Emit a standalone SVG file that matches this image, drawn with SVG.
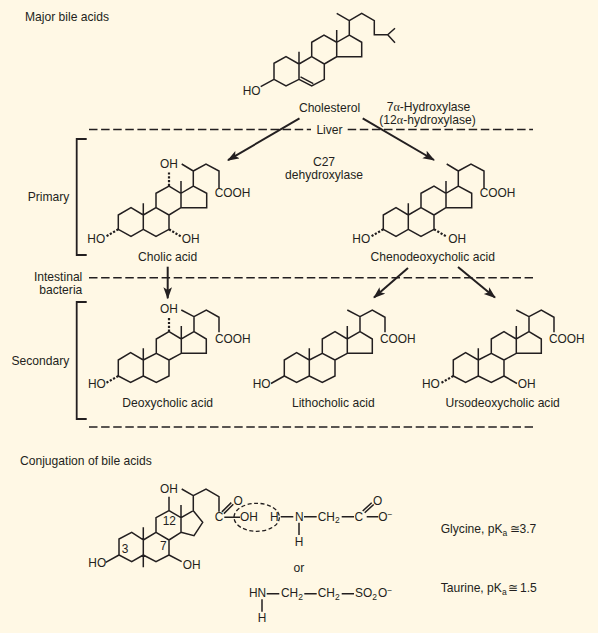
<svg xmlns="http://www.w3.org/2000/svg" xmlns:xlink="http://www.w3.org/1999/xlink" width="598" height="633" viewBox="0 0 598 633">
<style>
text{font-family:"Liberation Sans",Arial,sans-serif;font-size:11.9px;fill:#231f20}
.l{font-size:12.1px}
.m{text-anchor:middle}
.e{text-anchor:end}
.g{font-family:"Liberation Serif","Times New Roman",serif}
.s{font-size:8.5px}
.b{fill:none;stroke:#231f20;stroke-width:1.5;stroke-linejoin:miter}
.h{fill:none;stroke:#231f20;stroke-width:2.2;stroke-dasharray:2.2 1.6}
.d{fill:none;stroke:#231f20;stroke-width:1.5;stroke-dasharray:8.5 3.6}
.a{fill:none;stroke:#231f20;stroke-width:2}
.k{fill:none;stroke:#231f20;stroke-width:1.8}
</style>
<defs>
<marker id="ah" markerUnits="userSpaceOnUse" markerWidth="14" markerHeight="10" refX="11" refY="4.3" orient="auto" viewBox="0 0 14 10">
<path d="M0 0L12 4.3L0 8.6L2.7 4.3Z" fill="#231f20"/>
</marker>
<path id="upper" class="b" d="M-25 14.3V0L-12.3-7.3L0 0V14.3L-12.3 21.3ZM0 0V-11.7M0 14.3L12.7 21.3L25.7 14.3V0L12.7-7.3L0 0M12.7-7.3V-21.7L25.7-29L37.7-21.7V-7.3L25.7 0M37.7-7.3H63.4V-21.7L50-29L37.7-21.7V-34M50-29V-44L38.4-51M50-44L62.7-51L75.7-44V-27"/>
<path id="lower" class="b" d="M-25 16V0L-12.7-7.3L0 0V16L-12.7 22.3ZM0 0V-11.7M0 16L13 22.3L25.7 16V0L13-6.7L0 0M13-6.7V-21L25.7-28.3L38-21V-6.7L25.7 0M38-6.7H63V-21L50.7-28.3L38-21V-34M50.7-28.3V-43.3L38-50M50.7-43.3L63-50L75.7-42.7V-27.7"/>
</defs>
<rect width="598" height="633" fill="#fff8e5"/>

<g id="dividers">
<path class="d" d="M89 129.5H311M347.7 129.5H533"/>
<path class="d" d="M89 277.7H533"/>
<path class="d" d="M89 427H533"/>
</g>
<g id="brackets">
<path class="k" d="M86.7 139H76.7V255H86.7"/>
<path class="k" d="M86.7 302H76.7V419H86.7"/>
</g>
<g id="connectors">
<path class="a" marker-end="url(#ah)" d="M299.5 118.3L228 160.2"/>
<path class="a" marker-end="url(#ah)" d="M362.7 118.3L434 160"/>
<path class="a" marker-end="url(#ah)" d="M167.7 266.7V298.3"/>
<path class="a" marker-end="url(#ah)" d="M408 268L374 297.6"/>
<path class="a" marker-end="url(#ah)" d="M458 267L495 297.6"/>
</g>

<g id="headings">
<text class="l" x="25" y="21.3">Major bile acids</text>
<text class="l" x="20" y="465">Conjugation of bile acids</text>
<text class="l e" x="69.3" y="200.7">Primary</text>
<text class="l e" x="82.3" y="281">Intestinal</text>
<text class="l e" x="82.3" y="294.3">bacteria</text>
<text class="l e" x="69.3" y="365">Secondary</text>
<text class="l m" x="329.5" y="133.5">Liver</text>
</g>
<g id="enzymes">
<text class="l" x="386.7" y="110.7">7<tspan class="g">α</tspan>-Hydroxylase</text>
<text class="l" x="379.3" y="124">(12<tspan class="g">α</tspan>-hydroxylase)</text>
<text class="l m" x="324" y="166.2">C27</text>
<text class="l m" x="324" y="179.2">dehydroxylase</text>
</g>

<g id="cholesterol">
<path class="b" d="M274 79.3V63.3L286 56.7L299 64V79.3L286 86ZM299 64V51.7M299 79.3L311.7 86L324.3 79.3V64L311.7 56.7L299 64M300.5 76.8L313.3 83.6M311.7 56.7V42.3L324 35L336.7 42.3V56.7L324.3 64M336.7 56.7H361.7V42.3L349.3 35L336.7 42.3V30M349.3 35V20.7L336.7 13.3M349.3 20.7L361.7 13.3L374.3 20.7V34.7H387.7L395 28.3M387.7 34.7L395 42.7M274 79.3L260.7 86.7"/>
<text x="242.7" y="95">HO</text>
<text class="l m" x="329.5" y="111.7">Cholesterol</text>
</g>

<g id="cholic-acid">
<use href="#upper" xlink:href="#upper" x="143.3" y="215"/>
<path class="h" d="M169 186V172M118.3 229.3L106 236.5M169 229.3L181 236.5"/>
<text x="160" y="168.3">OH</text>
<text x="214.7" y="196.7">COOH</text>
<text x="87.3" y="243.3">HO</text>
<text x="181.7" y="243.3">OH</text>
<text class="l m" x="167.7" y="260.7">Cholic acid</text>
</g>

<g id="chenodeoxycholic-acid">
<use href="#upper" xlink:href="#upper" x="408.3" y="215"/>
<path class="h" d="M383.3 229.3L371 236.5M434 229.3L446.5 236.5"/>
<text x="479.7" y="196.7">COOH</text>
<text x="352.3" y="243.3">HO</text>
<text x="448.3" y="243.3">OH</text>
<text class="l m" x="432.7" y="260.7">Chenodeoxycholic acid</text>
</g>

<g id="deoxycholic-acid">
<use href="#lower" xlink:href="#lower" x="143.3" y="360"/>
<path class="h" d="M169 331.7V317M118.3 376L106 383"/>
<text x="160" y="313.3">OH</text>
<text x="215" y="342.5">COOH</text>
<text x="88" y="387.7">HO</text>
<text class="l m" x="167.7" y="406.7">Deoxycholic acid</text>
</g>

<g id="lithocholic-acid">
<use href="#lower" xlink:href="#lower" x="309.3" y="360"/>
<path class="b" d="M284.3 376L271 383.5"/>
<text x="380" y="342.5">COOH</text>
<text x="252.7" y="387.7">HO</text>
<text class="l m" x="333.3" y="406.7">Lithocholic acid</text>
</g>

<g id="ursodeoxycholic-acid">
<use href="#lower" xlink:href="#lower" x="478.3" y="360"/>
<path class="h" d="M453.3 376L441 383"/>
<path class="b" d="M504 376L517 383.5"/>
<text x="549" y="342.5">COOH</text>
<text x="422" y="387.7">HO</text>
<text x="517.7" y="387.7">OH</text>
<text class="l m" x="502.7" y="406.7">Ursodeoxycholic acid</text>
</g>

<g id="conjugate-bile-acid">
<path class="b" d="M119 555V539L131.7 532.3L143.3 540V555L131.7 561.7ZM143.3 540V527.3M143.3 555V567.3M143.3 555L156 561.7L169 555V540L156 532.3L143.3 540M156 532.3V517.7L169 510.7L181 517.7V532.3L169 540M181 532.3L194 535.7L202.7 522.3L193.3 510.7L181 517.7V505M193.3 510.7V495.7L181.7 489M193.3 495.7L206 489L219 496.7V511.7M169 510.7V496.7M169 555L181.7 561.7M119 555L105.7 562.3M224.3 517.3H240M221.9 511.9L231.3 502.6M223.9 513.6L233.3 504.3"/>
<text x="160" y="492.7">OH</text>
<text x="88.3" y="566.7">HO</text>
<text x="182.7" y="568.7">OH</text>
<text x="162.7" y="525">12</text>
<text x="160" y="550">7</text>
<text x="121.7" y="553.3">3</text>
<text class="m" x="219" y="520.7">C</text>
<text x="233.4" y="505">O</text>
<text x="240" y="520.7">OH</text>
<ellipse cx="256.7" cy="517.3" rx="22.7" ry="14" fill="none" stroke="#231f20" stroke-width="1.3" stroke-dasharray="4 2.5"/>
</g>

<g id="glycine">
<path class="b" d="M280.7 516.7H293.3M304 516.7H316.7M341.7 516.7H354M366.7 516.7H378.3M362.7 511L371.7 502.8M364.7 512.7L373.7 504.5M299 522.7V535"/>
<text x="270" y="520.7">H</text>
<text x="295" y="520.7">N</text>
<text x="299" y="545.7" class="m">H</text>
<text x="317.7" y="520.7">CH<tspan class="s" dy="2.5">2</tspan></text>
<text x="354.5" y="520.7">C</text>
<text x="373" y="505">O</text>
<text x="378.3" y="520.7">O<tspan class="s" dy="-4">−</tspan></text>
<text class="l" x="440.7" y="533.3">Glycine, pK<tspan class="s" dy="2.5">a</tspan><tspan x="510" dy="-2.5">≅</tspan><tspan x="519.5">3.7</tspan></text>
</g>

<g id="taurine">
<text class="l m" x="299" y="571.7">or</text>
<path class="b" d="M266.7 593.7H279.3M304.3 593.7H316.7M341.7 593.7H354M262 599.3V611.7"/>
<text x="249" y="597">HN</text>
<text class="m" x="262" y="621.7">H</text>
<text x="281" y="597">CH<tspan class="s" dy="2.5">2</tspan></text>
<text x="317.7" y="597">CH<tspan class="s" dy="2.5">2</tspan></text>
<text x="355" y="597">SO<tspan class="s" dy="2.5">2</tspan><tspan x="378" dy="-2.5">O</tspan><tspan class="s" dy="-4">−</tspan></text>
<text class="l" x="440.7" y="592.3">Taurine, pK<tspan class="s" dy="2.5">a</tspan><tspan x="507.7" dy="-2.5">≅</tspan><tspan x="520">1.5</tspan></text>
</g>
</svg>
